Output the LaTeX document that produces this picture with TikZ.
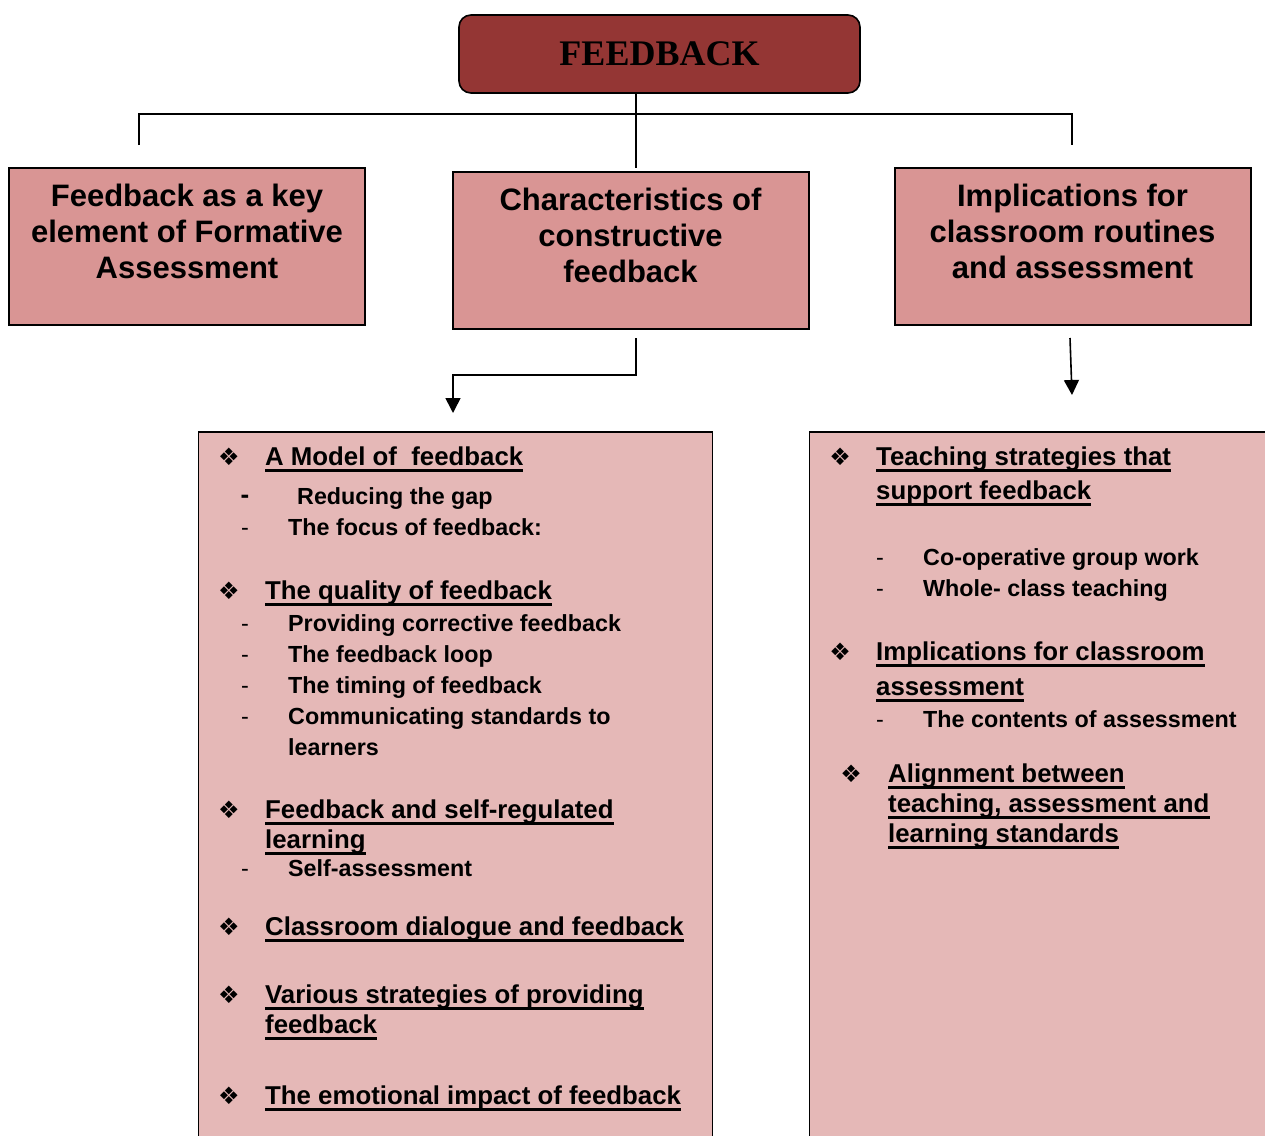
\documentclass[tikz,border=0pt]{standalone}
\usepackage{fontspec}
\setmainfont{Liberation Sans}
\newfontfamily\serifbold{Liberation Serif}
\newfontfamily\symfont{DejaVu Sans}
\usetikzlibrary{arrows.meta}
\definecolor{deepred}{HTML}{943634}
\definecolor{rosebox}{HTML}{D99594}
\definecolor{palerose}{HTML}{E5B8B7}
\begin{document}
\begin{tikzpicture}[x=1pt,y=-1pt,
  link/.style={line width=1.6pt},
  arr/.style={line width=1.6pt,-{Triangle[width=15pt,length=15pt]}},
  topbox/.style={draw=black,line width=1.6pt,fill=deepred,rounded corners=12pt,
    minimum width=401pt,minimum height=78pt,inner sep=0pt,
    font=\serifbold\bfseries\fontsize{36}{40}\selectfont},
  catbox/.style={draw=black,line width=1.6pt,fill=rosebox,
    minimum width=356pt,minimum height=157pt,inner sep=0pt},
  cattext/.style={align=center,inner sep=0pt,font=\bfseries\fontsize{31}{36}\selectfont},
  listbox/.style={draw=black,line width=1.6pt,fill=palerose,anchor=north west,inner sep=0pt},
  head/.style={anchor=base west,inner sep=0pt,font=\bfseries\fontsize{25.8}{30}\selectfont,
    append after command={([yshift=-5.5pt]\tikzlastnode.base west)
      edge[line width=2.4pt] ([yshift=-5.5pt]\tikzlastnode.base east)}},
  sub/.style={anchor=base west,inner sep=0pt,font=\bfseries\fontsize{23.3}{28}\selectfont},
  bul/.style={anchor=base,inner sep=0pt,font=\symfont\fontsize{24}{26}\selectfont},
  dsh/.style={anchor=base,inner sep=0pt,font=\fontsize{23.3}{28}\selectfont},
]
\useasboundingbox (0,0) rectangle (1265,1135);
\fill[white] (0,0) rectangle (1265,1135);

% lower list panels (run past the bottom edge)
\node[listbox,minimum width=514pt,minimum height=740pt] (lpanel) at (197.5,431) {};
\node[listbox,minimum width=456pt,minimum height=740pt] (rpanel) at (808.5,431) {};

% root
\node[topbox] (fb) at (659.5,54) {FEEDBACK};

% three category boxes
\node[catbox] (cL) at (187,246.5) {};
\node[catbox] (cM) at (631,250.5) {};
\node[catbox] (cR) at (1073,246.5) {};
\node[cattext] (tL) at (187,231.5) {Feedback as a key\\element of Formative\\Assessment};
\node[cattext] (tM) at (630.5,235) {Characteristics of\\constructive\\feedback};
\node[cattext] (tR) at (1072.5,231) {Implications for\\classroom routines\\and assessment};

% tree connectors
\coordinate (fbfoot) at (636,93);
\coordinate (bar) at (636,114);
\coordinate (mtop) at (636,168);
\coordinate (lend) at (139,145);
\coordinate (rend) at (1072,145);
\draw[link] (fbfoot) -- (mtop);
\draw[link] (lend) -- (lend |- bar) -- (rend |- bar) -- (rend);

\coordinate (mfoot) at (636,338);
\coordinate (ltip) at (453,413);
\coordinate (rfoot) at (1070,338);
\coordinate (rtip) at (1072,395);
\draw[arr] (mfoot) -- ++(0,37) -| (ltip);
\draw[arr] (rfoot) -- (rtip);

% left list
\node[bul] (lb1) at (229,465) {❖};
\node[head] (lh1) at (265,465) {A Model of\ \ feedback};
\node[dsh,font=\bfseries\fontsize{26}{28}\selectfont] (ld1) at (245,503) {-};
\node[sub] (ls1) at (297,504.5) {Reducing the gap};
\node[dsh] (ld2) at (245,535.5) {-};
\node[sub] (ls2) at (288,535.5) {The focus of feedback:};

\node[bul] (lb2) at (229,599) {❖};
\node[head] (lh2) at (265,599) {The quality of feedback};
\node[dsh] (ld3) at (245,631.5) {-};
\node[sub] (ls3) at (288,631.5) {Providing corrective feedback};
\node[dsh] (ld4) at (245,662.5) {-};
\node[sub] (ls4) at (288,662.5) {The feedback loop};
\node[dsh] (ld5) at (245,693.5) {-};
\node[sub] (ls5) at (288,693.5) {The timing of feedback};
\node[dsh] (ld6) at (245,724.5) {-};
\node[sub] (ls6) at (288,724.5) {Communicating standards to};
\node[sub] (ls7) at (288,755.5) {learners};

\node[bul] (lb3) at (229,818) {❖};
\node[head] (lh3) at (265,818) {Feedback and self-regulated};
\node[head] (lh3b) at (265,848) {learning};
\node[dsh] (ld7) at (245,876.5) {-};
\node[sub] (ls8) at (288,876.5) {Self-assessment};

\node[bul] (lb4) at (229,935) {❖};
\node[head] (lh4) at (265,935) {Classroom dialogue and feedback};

\node[bul] (lb5) at (229,1003) {❖};
\node[head] (lh5) at (265,1003) {Various strategies of providing};
\node[head] (lh5b) at (265,1033) {feedback};

\node[bul] (lb6) at (229,1104) {❖};
\node[head] (lh6) at (265,1104) {The emotional impact of feedback};

% right list
\node[bul] (rb1) at (840,465) {❖};
\node[head] (rh1) at (876,465) {Teaching strategies that};
\node[head] (rh1b) at (876,499) {support feedback};
\node[dsh] (rd1) at (880,565.5) {-};
\node[sub] (rs1) at (923,565.5) {Co-operative group work};
\node[dsh] (rd2) at (880,596.5) {-};
\node[sub] (rs2) at (923,596.5) {Whole- class teaching};

\node[bul] (rb2) at (840,660) {❖};
\node[head] (rh2) at (876,660) {Implications for classroom};
\node[head] (rh2b) at (876,695) {assessment};
\node[dsh] (rd3) at (880,727.5) {-};
\node[sub] (rs3) at (923,727.5) {The contents of assessment};

\node[bul] (rb3) at (851,782) {❖};
\node[head] (rh3) at (888,782) {Alignment between};
\node[head] (rh3b) at (888,812) {teaching, assessment and};
\node[head] (rh3c) at (888,842) {learning standards};
\end{tikzpicture}
\end{document}
